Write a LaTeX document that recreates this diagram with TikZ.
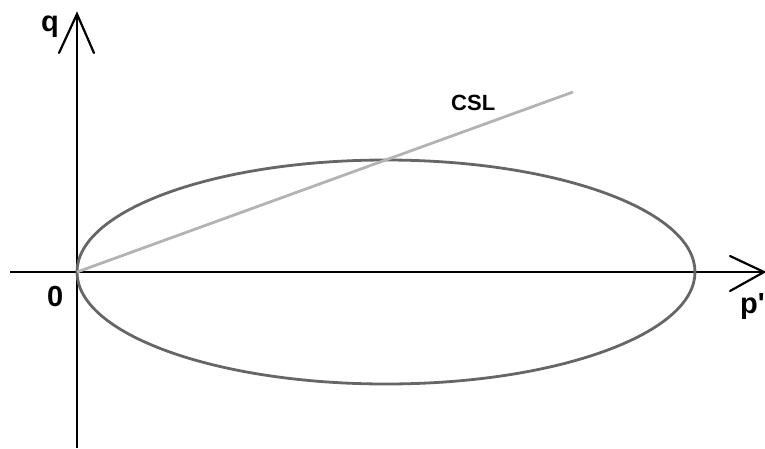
\documentclass[tikz,border=0pt]{standalone}
\usepackage{fontspec}
\setmainfont{Liberation Sans}
\newfontfamily\labelfont{Liberation Sans}[Ligatures=TeXOff]
\usepackage{tikz}
\usetikzlibrary{positioning, calc}
\usepackage{xcolor}
\definecolor{AxisInk}{HTML}{000000}
\definecolor{YieldInk}{HTML}{666666}
\definecolor{CslInk}{HTML}{B3B3B3}

\begin{document}
\begin{tikzpicture}[x=1pt, y=-1pt,
            axis/.style={draw=AxisInk, line width=2.4pt},
            tip/.style={draw=AxisInk, line width=2.2pt, line cap=round},
            yieldcurve/.style={draw=YieldInk, line width=2.8pt},
            csl/.style={draw=CslInk, line width=2.8pt},
            lbl/.style={font=\labelfont\bfseries\fontsize{29}{31}\selectfont, inner sep=0pt, anchor=base west},
            smalllbl/.style={font=\labelfont\bfseries\fontsize{22}{24}\selectfont, inner sep=0pt, anchor=base west}
        ]
            \useasboundingbox (0,0) rectangle (765,448);

            % Axes
            \coordinate (origin) at (77,272);
            \coordinate (qtop) at (77,14);
            \coordinate (qbottom) at (77,448);
            \coordinate (pleft) at (10,272);
            \coordinate (pright) at (765,272);
            \draw[axis] (qbottom) -- (qtop);
            \draw[axis] (pleft) -- (pright);
            \draw[tip] (59,53) -- (qtop) -- (94,53);
            \draw[tip] (730,256) -- (764,272) -- (730,291);

            % Yield surface
            \coordinate (centre) at (386,272);
            \draw[yieldcurve] (centre) ellipse [x radius=309, y radius=112];

            % Critical state line
            \coordinate (cslend) at (573,92);
            \draw[csl] (origin) -- (cslend);

            % Labels
            \node[lbl] (qlabel) at (41,31) {q};
            \node[lbl] (zero) at (47,306) {0};
            \node[lbl] (plabel) at (740,313) {p'};
            \node[smalllbl] (csllabel) at (451,110) {CSL};
        \end{tikzpicture}
\end{document}
